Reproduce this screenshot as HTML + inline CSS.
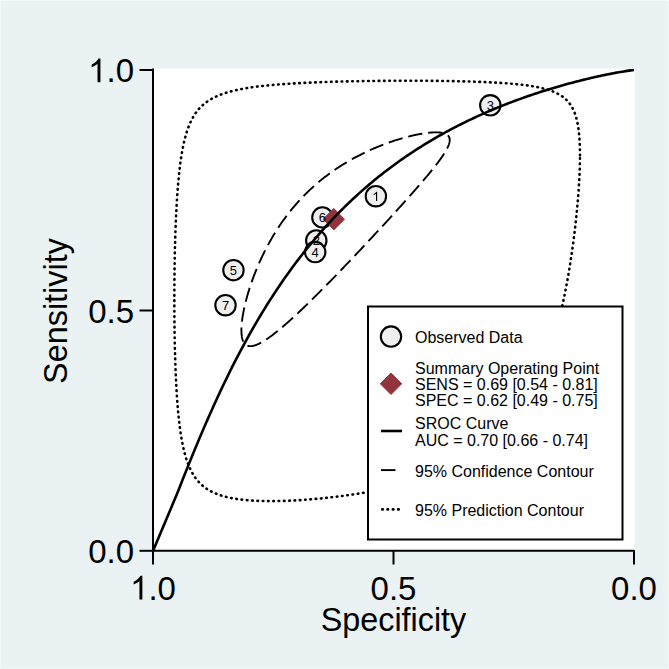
<!DOCTYPE html>
<html><head><meta charset="utf-8"><style>
html,body{margin:0;padding:0;background:#EAF2F3;width:669px;height:669px;overflow:hidden}
svg{position:absolute;left:0;top:0;font-family:"Liberation Sans",sans-serif}
.obs{fill:#EFEFEF;stroke:#000;stroke-width:2.1}
.lab{font-size:13px;text-anchor:middle;fill:#000}
.sum{fill:#91343E;stroke:#91343E;stroke-width:1;stroke-linejoin:round}
.tick{font-size:33px;fill:#000}
.leg{font-size:16px;fill:#000}
</style></head><body>
<svg width="669" height="669" viewBox="0 0 669 669">
<rect x="0" y="0" width="669" height="669" fill="#EAF2F3"/>
<rect x="0" y="0" width="669" height="1" fill="#F3F8F9"/>
<rect x="0" y="0" width="1" height="669" fill="#F3F8F9"/>
<rect x="668" y="0" width="1" height="669" fill="#F3F8F9"/>
<rect x="0" y="668" width="669" height="1" fill="#F1F6F7"/>
<rect x="153" y="68.5" width="481.7" height="482.5" fill="#FFFFFF"/>
<path d="M579.98,155.37 L579.98,153.62 L579.96,151.90 L579.94,150.22 L579.91,148.57 L579.87,146.95 L579.81,145.36 L579.75,143.80 L579.68,142.28 L579.60,140.78 L579.51,139.31 L579.41,137.87 L579.30,136.47 L579.19,135.09 L579.06,133.74 L578.92,132.42 L578.77,131.12 L578.62,129.86 L578.45,128.62 L578.27,127.40 L578.08,126.22 L577.89,125.06 L577.68,123.92 L577.46,122.81 L577.23,121.72 L576.99,120.66 L576.74,119.62 L576.49,118.61 L576.21,117.62 L575.93,116.65 L575.64,115.70 L575.34,114.78 L575.02,113.87 L574.70,112.99 L574.36,112.13 L574.01,111.29 L573.65,110.46 L573.28,109.66 L572.90,108.87 L572.50,108.11 L572.10,107.36 L571.68,106.63 L571.25,105.92 L570.80,105.22 L570.34,104.54 L569.87,103.88 L569.39,103.23 L568.89,102.60 L568.38,101.98 L567.86,101.38 L567.32,100.80 L566.77,100.22 L566.21,99.67 L565.63,99.12 L565.03,98.59 L564.43,98.07 L563.80,97.57 L563.16,97.07 L562.51,96.59 L561.84,96.12 L561.16,95.67 L560.46,95.22 L559.74,94.78 L559.01,94.36 L558.26,93.95 L557.49,93.54 L556.71,93.15 L555.91,92.76 L555.09,92.39 L554.25,92.03 L553.40,91.67 L552.53,91.32 L551.64,90.99 L550.73,90.66 L549.80,90.34 L548.85,90.02 L547.89,89.72 L546.90,89.42 L545.90,89.13 L544.87,88.85 L543.83,88.57 L542.76,88.31 L541.67,88.05 L540.57,87.79 L539.44,87.54 L538.29,87.30 L537.12,87.07 L535.92,86.84 L534.71,86.62 L533.47,86.40 L532.21,86.19 L530.92,85.98 L529.62,85.78 L528.29,85.59 L526.94,85.40 L525.56,85.22 L524.16,85.04 L522.74,84.86 L521.29,84.69 L519.82,84.53 L518.32,84.37 L516.80,84.21 L515.25,84.06 L513.68,83.92 L512.09,83.77 L510.47,83.64 L508.82,83.50 L507.15,83.37 L505.46,83.24 L503.74,83.12 L501.99,83.00 L500.22,82.89 L498.42,82.78 L496.60,82.67 L494.75,82.56 L492.88,82.46 L490.98,82.37 L489.06,82.27 L487.11,82.18 L485.14,82.09 L483.14,82.01 L481.12,81.93 L479.07,81.85 L477.00,81.77 L474.91,81.70 L472.79,81.63 L470.65,81.56 L468.48,81.50 L466.29,81.44 L464.08,81.38 L461.85,81.32 L459.59,81.27 L457.31,81.22 L455.01,81.17 L452.69,81.13 L450.35,81.09 L447.99,81.05 L445.61,81.01 L443.21,80.97 L440.79,80.94 L438.36,80.91 L435.90,80.89 L433.43,80.86 L430.95,80.84 L428.44,80.82 L425.93,80.80 L423.40,80.79 L420.85,80.77 L418.29,80.76 L415.73,80.76 L413.14,80.75 L410.55,80.75 L407.95,80.75 L405.34,80.75 L402.72,80.75 L400.10,80.76 L397.47,80.77 L394.83,80.78 L392.18,80.79 L389.54,80.81 L386.88,80.83 L384.23,80.85 L381.58,80.87 L378.92,80.89 L376.26,80.92 L373.61,80.95 L370.96,80.99 L368.31,81.02 L365.66,81.06 L363.02,81.10 L360.38,81.14 L357.75,81.19 L355.13,81.24 L352.51,81.29 L349.90,81.34 L347.30,81.40 L344.72,81.46 L342.14,81.52 L339.57,81.59 L337.02,81.65 L334.48,81.72 L331.95,81.80 L329.44,81.87 L326.95,81.95 L324.47,82.04 L322.00,82.12 L319.56,82.21 L317.13,82.30 L314.72,82.40 L312.33,82.50 L309.96,82.60 L307.61,82.71 L305.28,82.81 L302.97,82.93 L300.68,83.04 L298.41,83.16 L296.17,83.29 L293.95,83.42 L291.75,83.55 L289.58,83.68 L287.43,83.82 L285.30,83.97 L283.20,84.11 L281.12,84.27 L279.07,84.42 L277.05,84.59 L275.04,84.75 L273.07,84.92 L271.12,85.10 L269.19,85.28 L267.29,85.47 L265.42,85.66 L263.57,85.85 L261.75,86.06 L259.95,86.26 L258.18,86.48 L256.44,86.69 L254.72,86.92 L253.03,87.15 L251.36,87.39 L249.72,87.63 L248.11,87.88 L246.52,88.14 L244.96,88.40 L243.42,88.67 L241.90,88.95 L240.42,89.23 L238.95,89.52 L237.51,89.82 L236.10,90.13 L234.71,90.45 L233.34,90.77 L232.00,91.10 L230.68,91.44 L229.39,91.79 L228.12,92.15 L226.87,92.52 L225.64,92.90 L224.44,93.28 L223.26,93.68 L222.10,94.09 L220.96,94.50 L219.84,94.93 L218.75,95.37 L217.67,95.82 L216.62,96.28 L215.59,96.76 L214.57,97.24 L213.58,97.74 L212.60,98.25 L211.65,98.77 L210.71,99.31 L209.80,99.86 L208.90,100.42 L208.02,101.00 L207.15,101.59 L206.31,102.20 L205.48,102.82 L204.67,103.45 L203.87,104.11 L203.09,104.78 L202.33,105.46 L201.58,106.16 L200.85,106.88 L200.14,107.62 L199.44,108.37 L198.75,109.14 L198.08,109.94 L197.42,110.75 L196.78,111.57 L196.15,112.42 L195.53,113.29 L194.93,114.18 L194.34,115.10 L193.76,116.03 L193.20,116.98 L192.65,117.96 L192.11,118.96 L191.58,119.98 L191.06,121.03 L190.56,122.10 L190.07,123.19 L189.58,124.31 L189.11,125.45 L188.65,126.62 L188.20,127.82 L187.76,129.04 L187.33,130.29 L186.91,131.57 L186.50,132.87 L186.10,134.20 L185.71,135.56 L185.33,136.95 L184.95,138.37 L184.59,139.82 L184.23,141.29 L183.88,142.80 L183.55,144.34 L183.21,145.91 L182.89,147.51 L182.58,149.14 L182.27,150.80 L181.97,152.49 L181.68,154.22 L181.39,155.98 L181.12,157.77 L180.85,159.59 L180.58,161.45 L180.33,163.34 L180.08,165.26 L179.83,167.22 L179.60,169.21 L179.36,171.23 L179.14,173.28 L178.92,175.37 L178.71,177.50 L178.51,179.65 L178.31,181.84 L178.11,184.06 L177.92,186.31 L177.74,188.60 L177.56,190.91 L177.39,193.26 L177.23,195.65 L177.06,198.06 L176.91,200.50 L176.76,202.97 L176.61,205.48 L176.47,208.01 L176.34,210.57 L176.21,213.16 L176.08,215.78 L175.96,218.42 L175.84,221.09 L175.73,223.79 L175.62,226.51 L175.52,229.25 L175.42,232.02 L175.33,234.81 L175.24,237.63 L175.16,240.46 L175.08,243.31 L175.00,246.18 L174.93,249.07 L174.86,251.98 L174.80,254.90 L174.74,257.83 L174.69,260.78 L174.64,263.74 L174.59,266.71 L174.55,269.69 L174.51,272.68 L174.48,275.68 L174.45,278.69 L174.42,281.70 L174.40,284.71 L174.38,287.73 L174.37,290.75 L174.36,293.77 L174.35,296.78 L174.35,299.80 L174.35,302.81 L174.36,305.82 L174.37,308.82 L174.38,311.82 L174.40,314.81 L174.42,317.78 L174.45,320.75 L174.48,323.71 L174.51,326.66 L174.55,329.59 L174.59,332.50 L174.64,335.40 L174.69,338.29 L174.74,341.16 L174.80,344.01 L174.86,346.84 L174.93,349.64 L175.00,352.43 L175.08,355.20 L175.16,357.94 L175.24,360.66 L175.33,363.36 L175.42,366.03 L175.52,368.68 L175.62,371.30 L175.73,373.89 L175.84,376.46 L175.96,379.00 L176.08,381.51 L176.21,383.99 L176.34,386.44 L176.47,388.86 L176.61,391.26 L176.76,393.62 L176.91,395.95 L177.06,398.26 L177.23,400.53 L177.39,402.77 L177.56,404.98 L177.74,407.16 L177.92,409.30 L178.11,411.42 L178.31,413.50 L178.51,415.55 L178.71,417.57 L178.92,419.56 L179.14,421.52 L179.36,423.45 L179.60,425.34 L179.83,427.20 L180.08,429.04 L180.33,430.84 L180.58,432.61 L180.85,434.35 L181.12,436.06 L181.39,437.74 L181.68,439.39 L181.97,441.01 L182.27,442.60 L182.58,444.16 L182.89,445.69 L183.21,447.19 L183.55,448.66 L183.88,450.11 L184.23,451.53 L184.59,452.92 L184.95,454.28 L185.33,455.62 L185.71,456.93 L186.10,458.21 L186.50,459.47 L186.91,460.70 L187.33,461.91 L187.76,463.09 L188.20,464.24 L188.65,465.38 L189.11,466.48 L189.58,467.57 L190.07,468.63 L190.56,469.67 L191.06,470.68 L191.58,471.67 L192.11,472.65 L192.65,473.59 L193.20,474.52 L193.76,475.43 L194.34,476.32 L194.93,477.18 L195.53,478.03 L196.15,478.85 L196.78,479.66 L197.42,480.45 L198.08,481.21 L198.75,481.96 L199.44,482.69 L200.14,483.41 L200.85,484.10 L201.58,484.78 L202.33,485.44 L203.09,486.09 L203.87,486.71 L204.67,487.32 L205.48,487.92 L206.31,488.50 L207.15,489.06 L208.02,489.61 L208.90,490.14 L209.80,490.66 L210.71,491.16 L211.65,491.65 L212.60,492.12 L213.58,492.58 L214.57,493.03 L215.59,493.46 L216.62,493.88 L217.67,494.28 L218.75,494.67 L219.84,495.05 L220.96,495.42 L222.10,495.77 L223.26,496.11 L224.44,496.44 L225.64,496.76 L226.87,497.06 L228.12,497.36 L229.39,497.64 L230.68,497.90 L232.00,498.16 L233.34,498.41 L234.71,498.64 L236.10,498.86 L237.51,499.08 L238.95,499.28 L240.42,499.47 L241.90,499.65 L243.42,499.82 L244.96,499.97 L246.52,500.12 L248.11,500.26 L249.72,500.38 L251.36,500.50 L253.03,500.60 L254.72,500.70 L256.44,500.78 L258.18,500.86 L259.95,500.92 L261.75,500.98 L263.57,501.02 L265.42,501.05 L267.29,501.08 L269.19,501.09 L271.12,501.09 L273.07,501.09 L275.04,501.07 L277.05,501.04 L279.07,501.01 L281.12,500.96 L283.20,500.90 L285.30,500.83 L287.43,500.76 L289.58,500.67 L291.75,500.57 L293.95,500.46 L296.17,500.34 L298.41,500.21 L300.68,500.07 L302.97,499.92 L305.28,499.76 L307.61,499.59 L309.96,499.40 L312.33,499.21 L314.72,499.00 L317.13,498.79 L319.56,498.56 L322.00,498.32 L324.47,498.07 L326.95,497.81 L329.44,497.54 L331.95,497.26 L334.48,496.96 L337.02,496.65 L339.57,496.33 L342.14,496.00 L344.72,495.65 L347.30,495.29 L349.90,494.92 L352.51,494.54 L355.13,494.14 L357.75,493.73 L360.38,493.31 L363.02,492.87 L365.66,492.42 L368.31,491.96 L370.96,491.48 L373.61,490.99 L376.26,490.48 L378.92,489.96 L381.58,489.42 L384.23,488.87 L386.88,488.30 L389.54,487.71 L392.18,487.11 L394.83,486.50 L397.47,485.86 L400.10,485.21 L402.72,484.55 L405.34,483.86 L407.95,483.16 L410.55,482.44 L413.14,481.71 L415.73,480.95 L418.29,480.17 L420.85,479.38 L423.40,478.57 L425.93,477.74 L428.44,476.88 L430.95,476.01 L433.43,475.12 L435.90,474.20 L438.36,473.27 L440.79,472.31 L443.21,471.33 L445.61,470.33 L447.99,469.31 L450.35,468.26 L452.69,467.19 L455.01,466.10 L457.31,464.99 L459.59,463.85 L461.85,462.68 L464.08,461.49 L466.29,460.28 L468.48,459.04 L470.65,457.77 L472.79,456.48 L474.91,455.16 L477.00,453.81 L479.07,452.44 L481.12,451.04 L483.14,449.61 L485.14,448.16 L487.11,446.67 L489.06,445.16 L490.98,443.62 L492.88,442.05 L494.75,440.45 L496.60,438.82 L498.42,437.16 L500.22,435.47 L501.99,433.75 L503.74,432.00 L505.46,430.22 L507.15,428.41 L508.82,426.56 L510.47,424.69 L512.09,422.78 L513.68,420.85 L515.25,418.88 L516.80,416.88 L518.32,414.85 L519.82,412.78 L521.29,410.69 L522.74,408.56 L524.16,406.40 L525.56,404.22 L526.94,402.00 L528.29,399.74 L529.62,397.46 L530.92,395.15 L532.21,392.81 L533.47,390.43 L534.71,388.03 L535.92,385.59 L537.12,383.13 L538.29,380.64 L539.44,378.12 L540.57,375.57 L541.67,373.00 L542.76,370.39 L543.83,367.76 L544.87,365.11 L545.90,362.43 L546.90,359.72 L547.89,357.00 L548.85,354.24 L549.80,351.47 L550.73,348.67 L551.64,345.86 L552.53,343.02 L553.40,340.17 L554.25,337.29 L555.09,334.40 L555.91,331.49 L556.71,328.57 L557.49,325.64 L558.26,322.69 L559.01,319.73 L559.74,316.75 L560.46,313.77 L561.16,310.78 L561.84,307.78 L562.51,304.78 L563.16,301.77 L563.80,298.75 L564.43,295.74 L565.03,292.72 L565.63,289.70 L566.21,286.68 L566.77,283.67 L567.32,280.65 L567.86,277.65 L568.38,274.64 L568.89,271.65 L569.39,268.66 L569.87,265.68 L570.34,262.71 L570.80,259.76 L571.25,256.81 L571.68,253.88 L572.10,250.97 L572.50,248.07 L572.90,245.19 L573.28,242.32 L573.65,239.48 L574.01,236.65 L574.36,233.84 L574.70,231.06 L575.02,228.30 L575.34,225.56 L575.64,222.85 L575.93,220.16 L576.21,217.50 L576.49,214.87 L576.74,212.26 L576.99,209.68 L577.23,207.13 L577.46,204.61 L577.68,202.11 L577.89,199.65 L578.08,197.22 L578.27,194.82 L578.45,192.45 L578.62,190.11 L578.77,187.80 L578.92,185.53 L579.06,183.29 L579.19,181.08 L579.30,178.90 L579.41,176.76 L579.51,174.65 L579.60,172.57 L579.68,170.53 L579.75,168.51 L579.81,166.54 L579.87,164.59 L579.91,162.68 L579.94,160.80 L579.96,158.96 L579.98,157.15 Z" fill="none" stroke="#000" stroke-width="2.6" stroke-dasharray="0.6 4.7" stroke-linecap="round"/>
<path d="M449.71,139.99 L449.70,139.72 L449.69,139.45 L449.67,139.19 L449.64,138.94 L449.60,138.68 L449.56,138.44 L449.50,138.20 L449.44,137.96 L449.36,137.73 L449.28,137.50 L449.19,137.28 L449.10,137.07 L448.99,136.85 L448.87,136.65 L448.75,136.45 L448.62,136.25 L448.48,136.06 L448.33,135.88 L448.17,135.69 L448.01,135.52 L447.83,135.35 L447.65,135.18 L447.46,135.02 L447.26,134.86 L447.05,134.71 L446.83,134.56 L446.61,134.42 L446.38,134.28 L446.13,134.15 L445.88,134.02 L445.63,133.90 L445.36,133.78 L445.08,133.67 L444.80,133.56 L444.51,133.45 L444.21,133.35 L443.90,133.26 L443.58,133.17 L443.25,133.08 L442.92,133.00 L442.58,132.93 L442.23,132.85 L441.87,132.79 L441.50,132.72 L441.13,132.67 L440.74,132.61 L440.35,132.56 L439.95,132.52 L439.54,132.48 L439.13,132.44 L438.70,132.41 L438.27,132.39 L437.83,132.37 L437.38,132.35 L436.92,132.34 L436.46,132.33 L435.98,132.32 L435.50,132.33 L435.01,132.33 L434.52,132.34 L434.01,132.36 L433.50,132.38 L432.98,132.40 L432.45,132.43 L431.91,132.46 L431.37,132.50 L430.82,132.54 L430.26,132.59 L429.69,132.64 L429.11,132.70 L428.53,132.76 L427.94,132.82 L427.34,132.89 L426.74,132.97 L426.12,133.05 L425.50,133.13 L424.88,133.22 L424.24,133.31 L423.60,133.41 L422.95,133.51 L422.29,133.62 L421.63,133.73 L420.96,133.85 L420.28,133.97 L419.59,134.09 L418.90,134.22 L418.20,134.36 L417.49,134.50 L416.78,134.64 L416.06,134.79 L415.33,134.95 L414.60,135.11 L413.86,135.27 L413.11,135.44 L412.36,135.61 L411.60,135.79 L410.83,135.98 L410.06,136.17 L409.28,136.36 L408.50,136.56 L407.71,136.76 L406.91,136.97 L406.11,137.18 L405.30,137.40 L404.49,137.63 L403.67,137.85 L402.84,138.09 L402.01,138.33 L401.17,138.57 L400.33,138.82 L399.48,139.08 L398.63,139.34 L397.77,139.60 L396.91,139.87 L396.04,140.15 L395.17,140.43 L394.29,140.71 L393.41,141.01 L392.52,141.30 L391.63,141.61 L390.73,141.91 L389.83,142.23 L388.93,142.55 L388.02,142.87 L387.11,143.20 L386.19,143.54 L385.27,143.88 L384.35,144.22 L383.42,144.58 L382.49,144.93 L381.55,145.30 L380.61,145.67 L379.67,146.04 L378.73,146.42 L377.78,146.81 L376.83,147.20 L375.87,147.60 L374.92,148.00 L373.96,148.41 L373.00,148.83 L372.03,149.25 L371.07,149.68 L370.10,150.11 L369.13,150.55 L368.15,151.00 L367.18,151.45 L366.20,151.91 L365.23,152.37 L364.25,152.84 L363.27,153.32 L362.28,153.80 L361.30,154.29 L360.32,154.79 L359.33,155.29 L358.35,155.80 L357.36,156.31 L356.37,156.83 L355.39,157.36 L354.40,157.89 L353.41,158.43 L352.42,158.97 L351.43,159.52 L350.45,160.08 L349.46,160.65 L348.47,161.22 L347.48,161.80 L346.50,162.38 L345.51,162.97 L344.52,163.57 L343.54,164.17 L342.56,164.78 L341.57,165.40 L340.59,166.02 L339.61,166.65 L338.64,167.28 L337.66,167.92 L336.68,168.57 L335.71,169.23 L334.74,169.89 L333.77,170.56 L332.80,171.23 L331.84,171.91 L330.87,172.60 L329.91,173.30 L328.96,174.00 L328.00,174.70 L327.05,175.42 L326.10,176.14 L325.15,176.86 L324.21,177.59 L323.26,178.33 L322.33,179.08 L321.39,179.83 L320.46,180.59 L319.53,181.35 L318.61,182.12 L317.69,182.90 L316.77,183.68 L315.85,184.47 L314.94,185.27 L314.04,186.07 L313.14,186.88 L312.24,187.69 L311.34,188.51 L310.45,189.34 L309.57,190.17 L308.69,191.01 L307.81,191.85 L306.94,192.70 L306.07,193.56 L305.21,194.42 L304.35,195.28 L303.50,196.15 L302.65,197.03 L301.81,197.92 L300.97,198.80 L300.13,199.70 L299.30,200.60 L298.48,201.50 L297.66,202.41 L296.85,203.33 L296.04,204.25 L295.24,205.17 L294.44,206.10 L293.65,207.03 L292.86,207.97 L292.08,208.92 L291.31,209.87 L290.54,210.82 L289.77,211.78 L289.01,212.74 L288.26,213.70 L287.51,214.67 L286.77,215.65 L286.04,216.63 L285.31,217.61 L284.58,218.59 L283.86,219.58 L283.15,220.57 L282.45,221.57 L281.75,222.57 L281.05,223.57 L280.36,224.58 L279.68,225.59 L279.00,226.60 L278.33,227.61 L277.67,228.63 L277.01,229.65 L276.36,230.67 L275.71,231.70 L275.08,232.72 L274.44,233.75 L273.81,234.78 L273.19,235.82 L272.58,236.85 L271.97,237.89 L271.37,238.92 L270.77,239.96 L270.18,241.00 L269.60,242.04 L269.02,243.09 L268.45,244.13 L267.88,245.17 L267.32,246.22 L266.77,247.26 L266.22,248.31 L265.68,249.35 L265.15,250.40 L264.62,251.44 L264.10,252.49 L263.58,253.53 L263.08,254.57 L262.57,255.62 L262.08,256.66 L261.59,257.70 L261.10,258.74 L260.62,259.78 L260.15,260.82 L259.68,261.86 L259.22,262.89 L258.77,263.92 L258.32,264.96 L257.88,265.99 L257.45,267.01 L257.02,268.04 L256.60,269.06 L256.18,270.08 L255.77,271.10 L255.36,272.12 L254.96,273.13 L254.57,274.14 L254.19,275.14 L253.81,276.15 L253.43,277.14 L253.06,278.14 L252.70,279.13 L252.34,280.12 L251.99,281.11 L251.65,282.09 L251.31,283.06 L250.98,284.03 L250.65,285.00 L250.33,285.96 L250.01,286.92 L249.71,287.88 L249.40,288.83 L249.10,289.77 L248.81,290.71 L248.53,291.64 L248.25,292.57 L247.97,293.49 L247.70,294.41 L247.44,295.32 L247.18,296.23 L246.93,297.13 L246.69,298.02 L246.45,298.91 L246.21,299.79 L245.99,300.67 L245.76,301.54 L245.55,302.40 L245.34,303.26 L245.13,304.11 L244.93,304.95 L244.74,305.79 L244.55,306.62 L244.36,307.44 L244.19,308.25 L244.01,309.06 L243.85,309.86 L243.69,310.66 L243.53,311.44 L243.38,312.22 L243.24,312.99 L243.10,313.76 L242.96,314.51 L242.84,315.26 L242.71,316.00 L242.60,316.74 L242.49,317.46 L242.38,318.18 L242.28,318.89 L242.19,319.59 L242.10,320.28 L242.01,320.96 L241.93,321.64 L241.86,322.31 L241.79,322.97 L241.73,323.62 L241.67,324.26 L241.62,324.89 L241.58,325.52 L241.54,326.13 L241.50,326.74 L241.47,327.34 L241.45,327.93 L241.43,328.51 L241.41,329.08 L241.41,329.65 L241.40,330.20 L241.41,330.75 L241.41,331.28 L241.43,331.81 L241.45,332.33 L241.47,332.84 L241.50,333.34 L241.54,333.83 L241.58,334.31 L241.62,334.78 L241.67,335.25 L241.73,335.70 L241.79,336.14 L241.86,336.58 L241.93,337.00 L242.01,337.42 L242.10,337.83 L242.19,338.22 L242.28,338.61 L242.38,338.99 L242.49,339.36 L242.60,339.72 L242.71,340.07 L242.84,340.40 L242.96,340.73 L243.10,341.06 L243.24,341.37 L243.38,341.67 L243.53,341.96 L243.69,342.24 L243.85,342.51 L244.01,342.78 L244.19,343.03 L244.36,343.27 L244.55,343.50 L244.74,343.73 L244.93,343.94 L245.13,344.15 L245.34,344.34 L245.55,344.52 L245.76,344.70 L245.99,344.86 L246.21,345.02 L246.45,345.16 L246.69,345.30 L246.93,345.42 L247.18,345.54 L247.44,345.65 L247.70,345.74 L247.97,345.83 L248.25,345.90 L248.53,345.97 L248.81,346.03 L249.10,346.07 L249.40,346.11 L249.71,346.14 L250.01,346.15 L250.33,346.16 L250.65,346.16 L250.98,346.15 L251.31,346.12 L251.65,346.09 L251.99,346.05 L252.34,346.00 L252.70,345.93 L253.06,345.86 L253.43,345.78 L253.81,345.69 L254.19,345.59 L254.57,345.48 L254.96,345.36 L255.36,345.23 L255.77,345.08 L256.18,344.93 L256.60,344.77 L257.02,344.60 L257.45,344.42 L257.88,344.23 L258.32,344.03 L258.77,343.83 L259.22,343.61 L259.68,343.38 L260.15,343.14 L260.62,342.89 L261.10,342.63 L261.59,342.36 L262.08,342.09 L262.57,341.80 L263.08,341.50 L263.58,341.20 L264.10,340.88 L264.62,340.55 L265.15,340.22 L265.68,339.87 L266.22,339.52 L266.77,339.16 L267.32,338.78 L267.88,338.40 L268.45,338.01 L269.02,337.60 L269.60,337.19 L270.18,336.77 L270.77,336.34 L271.37,335.90 L271.97,335.45 L272.58,334.99 L273.19,334.52 L273.81,334.05 L274.44,333.56 L275.08,333.06 L275.71,332.56 L276.36,332.05 L277.01,331.52 L277.67,330.99 L278.33,330.45 L279.00,329.90 L279.68,329.34 L280.36,328.77 L281.05,328.19 L281.75,327.61 L282.45,327.01 L283.15,326.41 L283.86,325.80 L284.58,325.18 L285.31,324.55 L286.04,323.91 L286.77,323.26 L287.51,322.60 L288.26,321.94 L289.01,321.27 L289.77,320.59 L290.54,319.90 L291.31,319.20 L292.08,318.50 L292.86,317.78 L293.65,317.06 L294.44,316.33 L295.24,315.60 L296.04,314.85 L296.85,314.10 L297.66,313.34 L298.48,312.57 L299.30,311.79 L300.13,311.01 L300.97,310.22 L301.81,309.42 L302.65,308.62 L303.50,307.81 L304.35,306.99 L305.21,306.16 L306.07,305.33 L306.94,304.49 L307.81,303.64 L308.69,302.79 L309.57,301.93 L310.45,301.06 L311.34,300.19 L312.24,299.31 L313.14,298.42 L314.04,297.53 L314.94,296.63 L315.85,295.73 L316.77,294.82 L317.69,293.91 L318.61,292.99 L319.53,292.06 L320.46,291.13 L321.39,290.19 L322.33,289.25 L323.26,288.30 L324.21,287.35 L325.15,286.40 L326.10,285.44 L327.05,284.47 L328.00,283.50 L328.96,282.53 L329.91,281.55 L330.87,280.56 L331.84,279.58 L332.80,278.59 L333.77,277.59 L334.74,276.60 L335.71,275.59 L336.68,274.59 L337.66,273.58 L338.64,272.57 L339.61,271.56 L340.59,270.54 L341.57,269.52 L342.56,268.50 L343.54,267.48 L344.52,266.45 L345.51,265.42 L346.50,264.39 L347.48,263.36 L348.47,262.32 L349.46,261.29 L350.45,260.25 L351.43,259.21 L352.42,258.17 L353.41,257.13 L354.40,256.09 L355.39,255.04 L356.37,254.00 L357.36,252.96 L358.35,251.91 L359.33,250.87 L360.32,249.82 L361.30,248.78 L362.28,247.73 L363.27,246.69 L364.25,245.64 L365.23,244.60 L366.20,243.55 L367.18,242.51 L368.15,241.47 L369.13,240.43 L370.10,239.39 L371.07,238.35 L372.03,237.32 L373.00,236.28 L373.96,235.25 L374.92,234.22 L375.87,233.19 L376.83,232.16 L377.78,231.13 L378.73,230.11 L379.67,229.09 L380.61,228.07 L381.55,227.06 L382.49,226.04 L383.42,225.03 L384.35,224.02 L385.27,223.02 L386.19,222.02 L387.11,221.02 L388.02,220.03 L388.93,219.04 L389.83,218.05 L390.73,217.07 L391.63,216.09 L392.52,215.11 L393.41,214.14 L394.29,213.17 L395.17,212.21 L396.04,211.25 L396.91,210.29 L397.77,209.34 L398.63,208.40 L399.48,207.46 L400.33,206.52 L401.17,205.59 L402.01,204.66 L402.84,203.74 L403.67,202.82 L404.49,201.91 L405.30,201.00 L406.11,200.10 L406.91,199.21 L407.71,198.31 L408.50,197.43 L409.28,196.55 L410.06,195.67 L410.83,194.81 L411.60,193.94 L412.36,193.08 L413.11,192.23 L413.86,191.39 L414.60,190.55 L415.33,189.71 L416.06,188.88 L416.78,188.06 L417.49,187.24 L418.20,186.43 L418.90,185.63 L419.59,184.83 L420.28,184.04 L420.96,183.25 L421.63,182.47 L422.29,181.70 L422.95,180.93 L423.60,180.17 L424.24,179.42 L424.88,178.67 L425.50,177.93 L426.12,177.19 L426.74,176.46 L427.34,175.74 L427.94,175.02 L428.53,174.31 L429.11,173.61 L429.69,172.91 L430.26,172.22 L430.82,171.54 L431.37,170.86 L431.91,170.19 L432.45,169.53 L432.98,168.87 L433.50,168.22 L434.01,167.57 L434.52,166.93 L435.01,166.30 L435.50,165.67 L435.98,165.06 L436.46,164.44 L436.92,163.84 L437.38,163.24 L437.83,162.64 L438.27,162.06 L438.70,161.48 L439.13,160.90 L439.54,160.34 L439.95,159.78 L440.35,159.22 L440.74,158.67 L441.13,158.13 L441.50,157.60 L441.87,157.07 L442.23,156.54 L442.58,156.03 L442.92,155.52 L443.25,155.01 L443.58,154.51 L443.90,154.02 L444.21,153.54 L444.51,153.06 L444.80,152.58 L445.08,152.12 L445.36,151.66 L445.63,151.20 L445.88,150.75 L446.13,150.31 L446.38,149.87 L446.61,149.44 L446.83,149.02 L447.05,148.60 L447.26,148.19 L447.46,147.78 L447.65,147.38 L447.83,146.98 L448.01,146.60 L448.17,146.21 L448.33,145.83 L448.48,145.46 L448.62,145.10 L448.75,144.74 L448.87,144.38 L448.99,144.03 L449.10,143.69 L449.19,143.35 L449.28,143.02 L449.36,142.69 L449.44,142.37 L449.50,142.05 L449.56,141.74 L449.60,141.44 L449.64,141.14 L449.67,140.84 L449.69,140.56 L449.70,140.27 Z" fill="none" stroke="#000" stroke-width="1.9" stroke-dasharray="14.4 5.9" stroke-dashoffset="9.2"/>
<circle cx="375.9" cy="196.2" r="10.2" class="obs"/>
<circle cx="316.3" cy="240.5" r="10.2" class="obs"/>
<circle cx="490.3" cy="105.3" r="10.2" class="obs"/>
<circle cx="315.2" cy="252.1" r="10.2" class="obs"/>
<circle cx="233.45" cy="270.15" r="10.2" class="obs"/>
<circle cx="322.4" cy="217.4" r="10.2" class="obs"/>
<circle cx="225.5" cy="305.2" r="10.2" class="obs"/>
<path d="M333.8,208.5 L344.5,219.2 L333.8,229.89999999999998 L323.1,219.2 Z" class="sum"/>
<path transform="translate(372.29,201.10) scale(0.006348,-0.006348)" d="M763 0L583 0L583 1147C540 1106 483 1064 412 1023C342 982 278 951 222 930L222 1104C323 1151 411 1208 486 1276C561 1343 614 1409 646 1472L763 1472Z"/><text x="316.3" y="245.40" class="lab">2</text><text x="490.3" y="110.20" class="lab">3</text><text x="315.2" y="257.00" class="lab">4</text><text x="233.45" y="275.05" class="lab">5</text><text x="322.4" y="222.30" class="lab">6</text><text x="225.5" y="310.10" class="lab">7</text>
<path d="M153.00,551.00 L177.05,493.84 L179.09,488.66 L181.13,483.49 L183.16,478.34 L185.20,473.22 L187.24,468.13 L189.28,463.06 L191.32,458.04 L193.36,453.05 L195.39,448.11 L197.43,443.20 L199.47,438.34 L201.51,433.53 L203.55,428.76 L205.58,424.04 L207.62,419.37 L209.66,414.74 L211.70,410.17 L213.74,405.64 L215.77,401.17 L217.81,396.75 L219.85,392.37 L221.89,388.05 L223.93,383.78 L225.97,379.56 L228.00,375.38 L230.04,371.26 L232.08,367.19 L234.12,363.17 L236.16,359.20 L238.19,355.28 L240.23,351.40 L242.27,347.58 L244.31,343.80 L246.35,340.07 L248.38,336.39 L250.42,332.76 L252.46,329.17 L254.50,325.62 L256.54,322.12 L258.58,318.67 L260.61,315.26 L262.65,311.90 L264.69,308.57 L266.73,305.29 L268.77,302.06 L270.80,298.86 L272.84,295.71 L274.88,292.59 L276.92,289.52 L278.96,286.49 L280.99,283.49 L283.03,280.53 L285.07,277.62 L287.11,274.74 L289.15,271.89 L291.19,269.08 L293.22,266.31 L295.26,263.58 L297.30,260.88 L298.99,258.66 L300.68,256.47 L302.38,254.30 L304.07,252.16 L305.76,250.03 L307.45,247.93 L309.14,245.85 L310.84,243.80 L312.53,241.76 L314.22,239.75 L315.91,237.76 L317.60,235.79 L319.30,233.84 L320.99,231.90 L322.68,229.99 L324.37,228.10 L326.06,226.23 L327.76,224.38 L329.45,222.55 L331.14,220.74 L332.83,218.95 L334.52,217.17 L336.22,215.41 L337.91,213.67 L339.60,211.95 L341.29,210.25 L342.98,208.56 L344.67,206.90 L346.37,205.24 L348.06,203.61 L349.75,201.99 L351.44,200.39 L353.13,198.80 L354.83,197.24 L356.52,195.68 L358.21,194.14 L359.90,192.62 L361.59,191.12 L363.29,189.62 L364.98,188.15 L366.67,186.69 L368.36,185.24 L370.05,183.81 L371.75,182.39 L373.44,180.98 L375.13,179.59 L376.82,178.22 L378.51,176.85 L380.21,175.51 L381.90,174.17 L383.59,172.85 L385.28,171.54 L386.97,170.24 L388.67,168.96 L390.36,167.68 L392.05,166.43 L393.74,165.18 L395.43,163.94 L397.13,162.72 L398.82,161.51 L400.51,160.31 L402.20,159.12 L403.89,157.95 L405.59,156.78 L407.28,155.63 L408.97,154.49 L410.66,153.36 L412.35,152.24 L414.05,151.13 L415.74,150.03 L417.43,148.94 L419.12,147.86 L420.81,146.80 L422.50,145.74 L424.20,144.69 L425.89,143.65 L427.58,142.63 L429.27,141.61 L430.96,140.60 L432.66,139.60 L434.35,138.61 L436.04,137.63 L437.73,136.66 L439.42,135.70 L441.12,134.75 L442.81,133.81 L444.50,132.87 L446.19,131.95 L447.88,131.03 L449.58,130.12 L451.27,129.22 L452.96,128.33 L454.65,127.45 L456.34,126.57 L458.04,125.70 L459.73,124.85 L461.42,124.00 L463.11,123.15 L464.80,122.32 L466.50,121.49 L468.19,120.67 L469.88,119.86 L471.57,119.06 L473.26,118.26 L474.96,117.47 L476.65,116.69 L478.34,115.91 L480.03,115.15 L481.72,114.39 L483.42,113.63 L485.11,112.89 L486.80,112.15 L488.49,111.42 L490.18,110.69 L491.88,109.97 L493.57,109.26 L495.26,108.56 L496.95,107.86 L498.64,107.16 L500.33,106.48 L502.03,105.80 L503.72,105.13 L505.41,104.46 L507.10,103.80 L508.79,103.14 L510.49,102.50 L512.18,101.85 L513.87,101.22 L515.56,100.59 L517.25,99.96 L518.95,99.35 L520.64,98.73 L522.33,98.13 L524.02,97.53 L525.71,96.93 L527.41,96.34 L529.10,95.76 L530.79,95.18 L532.48,94.61 L534.17,94.04 L535.87,93.48 L537.56,92.92 L539.25,92.37 L540.94,91.83 L542.63,91.29 L544.33,90.75 L546.02,90.22 L547.71,89.70 L549.40,89.18 L551.09,88.67 L552.79,88.16 L554.48,87.66 L556.17,87.16 L557.86,86.67 L559.55,86.18 L561.25,85.69 L562.94,85.22 L564.63,84.74 L566.32,84.28 L568.01,83.81 L569.71,83.35 L571.40,82.90 L573.09,82.45 L574.78,82.01 L576.47,81.57 L578.16,81.14 L579.86,80.71 L581.55,80.29 L583.24,79.87 L584.93,79.45 L586.62,79.05 L588.32,78.64 L590.01,78.24 L591.70,77.85 L593.39,77.46 L595.08,77.08 L596.78,76.70 L598.47,76.33 L600.16,75.96 L601.85,75.60 L603.54,75.24 L605.24,74.89 L606.93,74.54 L608.62,74.20 L610.31,73.86 L612.00,73.53 L613.70,73.21 L615.39,72.89 L617.08,72.58 L618.77,72.28 L620.46,71.98 L622.16,71.69 L623.85,71.41 L625.54,71.14 L627.23,70.88 L628.92,70.63 L630.62,70.39 L632.31,70.17 L634.00,70.00 L634.00,70.00" fill="none" stroke="#000" stroke-width="2.6" stroke-linejoin="round"/>
<rect x="368" y="306.5" width="254.5" height="233" fill="#FFFFFF" stroke="#000" stroke-width="2"/>
<circle cx="391" cy="336.6" r="10.2" class="obs"/>
<path d="M391,373.1 L401.7,383.8 L391,394.5 L380.3,383.8 Z" class="sum"/>
<line x1="381" y1="431" x2="402" y2="431" stroke="#000" stroke-width="2.6"/>
<line x1="381" y1="470.1" x2="395.5" y2="470.1" stroke="#000" stroke-width="1.9"/>
<line x1="381" y1="509.4" x2="402" y2="509.4" stroke="#000" stroke-width="2.6" stroke-dasharray="0.6 4.7" stroke-linecap="round" stroke-dashoffset="-1.2"/>
<text class="leg" x="415" y="343.1">Observed Data</text>
<text class="leg" x="415" y="373.6">Summary Operating Point</text>
<text class="leg" x="415" y="389.7">SENS = 0.69 [0.54 - 0.81]</text>
<text class="leg" x="415" y="405.9">SPEC = 0.62 [0.49 - 0.75]</text>
<text class="leg" x="415" y="429.4">SROC Curve</text>
<text class="leg" x="415" y="445.5">AUC = 0.70 [0.66 - 0.74]</text>
<text class="leg" x="415" y="477.0">95% Confidence Contour</text>
<text class="leg" x="415" y="515.6">95% Prediction Contour</text>
<g stroke="#000" stroke-width="2" fill="none">
<path d="M153,68.5 L153,550.8 L634,550.8" stroke-width="2"/>
<line x1="139.5" y1="70" x2="153" y2="70"/>
<line x1="139.5" y1="310.5" x2="153" y2="310.5"/>
<line x1="139.5" y1="550.8" x2="153" y2="550.8"/>
<line x1="153" y1="550" x2="153" y2="564.5"/>
<line x1="393.5" y1="550" x2="393.5" y2="564.5"/>
<line x1="634" y1="550" x2="634" y2="564.5"/>
</g>
<path transform="translate(88.13,82.3) scale(0.016113,-0.016113)" d="M763 0L583 0L583 1147C540 1106 483 1064 412 1023C342 982 278 951 222 930L222 1104C323 1151 411 1208 486 1276C561 1343 614 1409 646 1472L763 1472Z"/><text class="tick" x="106.48" y="82.3">.0</text>
<text class="tick" x="134" y="322.8" text-anchor="end">0.5</text>
<text class="tick" x="134" y="563.3" text-anchor="end">0.0</text>
<path transform="translate(130.06,599.5) scale(0.016113,-0.016113)" d="M763 0L583 0L583 1147C540 1106 483 1064 412 1023C342 982 278 951 222 930L222 1104C323 1151 411 1208 486 1276C561 1343 614 1409 646 1472L763 1472Z"/><text class="tick" x="148.41" y="599.5">.0</text>
<text class="tick" x="393.5" y="599.5" text-anchor="middle">0.5</text>
<text class="tick" x="634" y="599.5" text-anchor="middle">0.0</text>
<text class="tick" x="393.5" y="631.3" text-anchor="middle" style="font-size:32.3px">Specificity</text>
<text class="tick" transform="translate(66.6,311) rotate(-90)" x="0" y="0" text-anchor="middle" style="font-size:32.4px">Sensitivity</text>
</svg>
</body></html>
